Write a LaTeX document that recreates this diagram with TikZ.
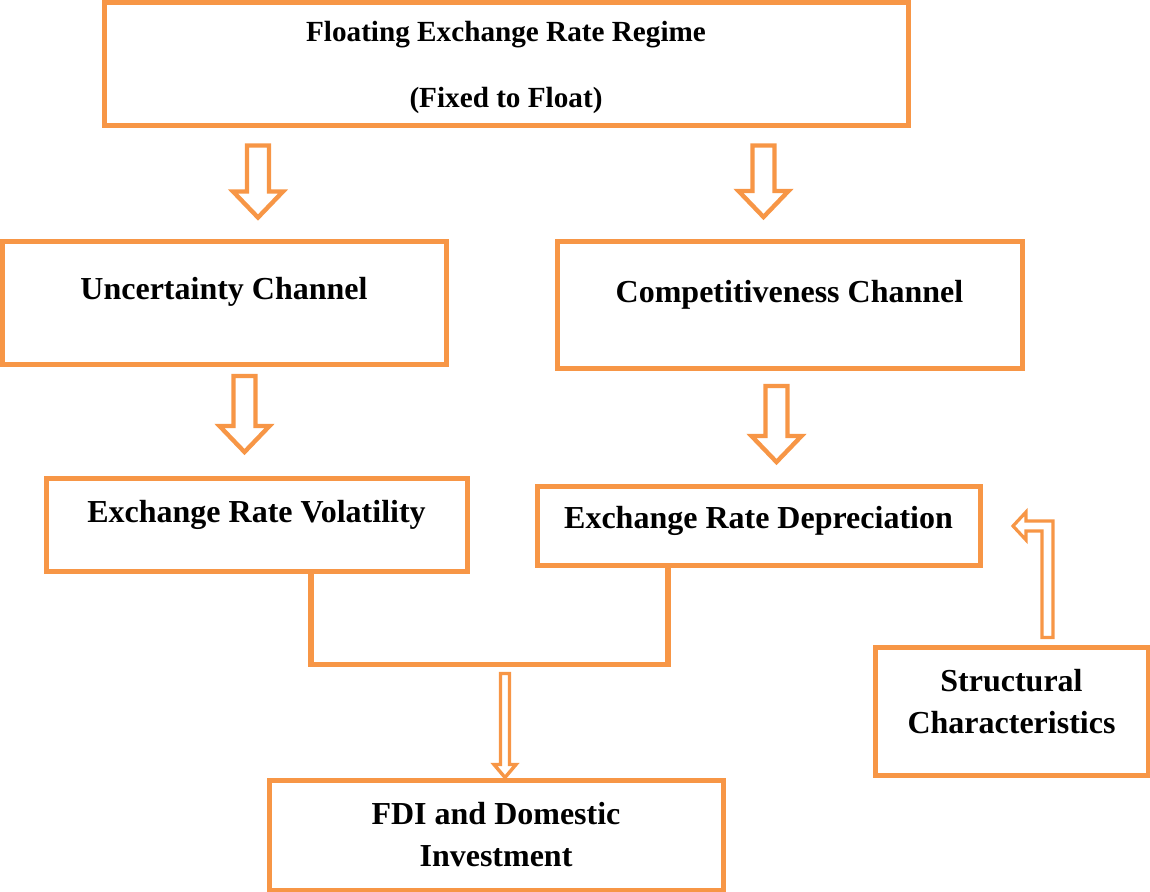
\documentclass[tikz,border=0pt]{standalone}
\usepackage{fontspec}
\setmainfont{Liberation Serif}
\usetikzlibrary{calc}
\definecolor{accent}{HTML}{F79646}
\tikzset{
  flow/box/.style={draw=accent, line width=2.5pt, align=center, inner sep=2pt,
    font=\bfseries\fontsize{16}{21}\selectfont},
  flow/lift/.style={text height=11pt, text depth=#1},
  flow/link/.style={draw=accent, line width=2.6pt},
  flow/hollow/.style n args={3}{draw=accent, fill=white, line join=miter,
    to path={let \p1=(\tikztostart), \p2=(\tikztotarget) in
      (\x1-#1,\y1) -- (\x1+#1,\y1) -- (\x1+#1,\y2+#3) -- (\x1+#2,\y2+#3)
      -- (\x1,\y2) -- (\x1-#2,\y2+#3) -- (\x1-#1,\y2+#3) -- cycle}},
  flow/bigarrow/.style={flow/hollow={5.5pt}{12.5pt}{13pt}, line width=2.2pt},
  flow/thinarrow/.style={flow/hollow={2.25pt}{5.5pt}{6.5pt}, line width=1.7pt},
  flow/bent/.style={draw=accent, fill=white, line width=1.6pt, line join=miter,
    to path={let \p1=(\tikztostart), \p2=(\tikztotarget) in
      (\x1-2.75pt,\y1) -- (\x1+2.75pt,\y1) -- (\x1+2.75pt,\y2+2.5pt) -- (\x2+6.5pt,\y2+2.5pt)
      -- (\x2+6.5pt,\y2+7pt) -- (\x2,\y2) -- (\x2+6.5pt,\y2-7pt) -- (\x2+6.5pt,\y2-2.5pt)
      -- (\x1-2.75pt,\y2-2.5pt) -- cycle}}
}

\begin{document}
\begin{tikzpicture}[x=0.5pt, y=-0.5pt]
  \useasboundingbox (0,0) rectangle (1150,892);

  % Regime and the two channels
  \node[flow/box, minimum width=402pt, minimum height=61.5pt, text depth=-2.5pt,
        font=\bfseries\fontsize{14.6}{33}\selectfont] (regime) at (506,64.5)
        {Floating Exchange Rate Regime\\(Fixed to Float)};
  \node[flow/box, flow/lift=14.5pt, minimum width=222pt, minimum height=61.5pt] (uncert) at (224,303.5) {Uncertainty Channel};
  \node[flow/box, flow/lift=13.5pt, minimum width=232.5pt, minimum height=63.5pt] (comp) at (789.5,305.5) {Competitiveness Channel};

  % Exchange rate effects
  \node[flow/box, flow/lift=13pt, minimum width=210.5pt, minimum height=46pt] (vol) at (256.5,525) {Exchange Rate Volatility};
  \node[flow/box, flow/lift=8pt, minimum width=221.5pt, minimum height=39pt] (dep) at (758.5,526) {Exchange Rate Depreciation};
  \node[flow/box, text depth=10pt, minimum width=136.5pt, minimum height=64pt] (struct) at (1011.5,711) {Structural\\Characteristics};
  \node[flow/box, text depth=1pt, minimum width=227pt, minimum height=55pt] (fdi) at (496,835) {FDI and Domestic\\Investment};

  \coordinate (a1) at ($(regime.south)+(-248,17)$);
  \coordinate (a2) at ($(regime.south)+(257.5,17)$);
  \coordinate (a3) at ($(uncert.south)+(20.5,8.5)$);
  \coordinate (a4) at ($(comp.south)+(-13,14.5)$);
  \coordinate (jn) at (505,664.5);

  \draw[flow/bigarrow] (a1) to ($(a1 |- uncert.north)+(0,-22)$);
  \draw[flow/bigarrow] (a2) to ($(a2 |- comp.north)+(0,-22.5)$);
  \draw[flow/bigarrow] (a3) to ($(a3 |- vol.north)+(0,-24.5)$);
  \draw[flow/bigarrow] (a4) to ($(a4 |- dep.north)+(0,-22.5)$);

  % Joining both effects into investment
  \draw[flow/link] ($(vol.south)+(54.5,0)$) |- (jn) -| ($(dep.south)+(-90.5,0)$);
  \draw[flow/thinarrow] ($(jn)+(0,9)$) to (jn |- fdi.north);

  \draw[flow/bent] ($(struct.north)+(36,-7)$) to ($(dep.east)+(30.5,0)$);
\end{tikzpicture}
\end{document}
